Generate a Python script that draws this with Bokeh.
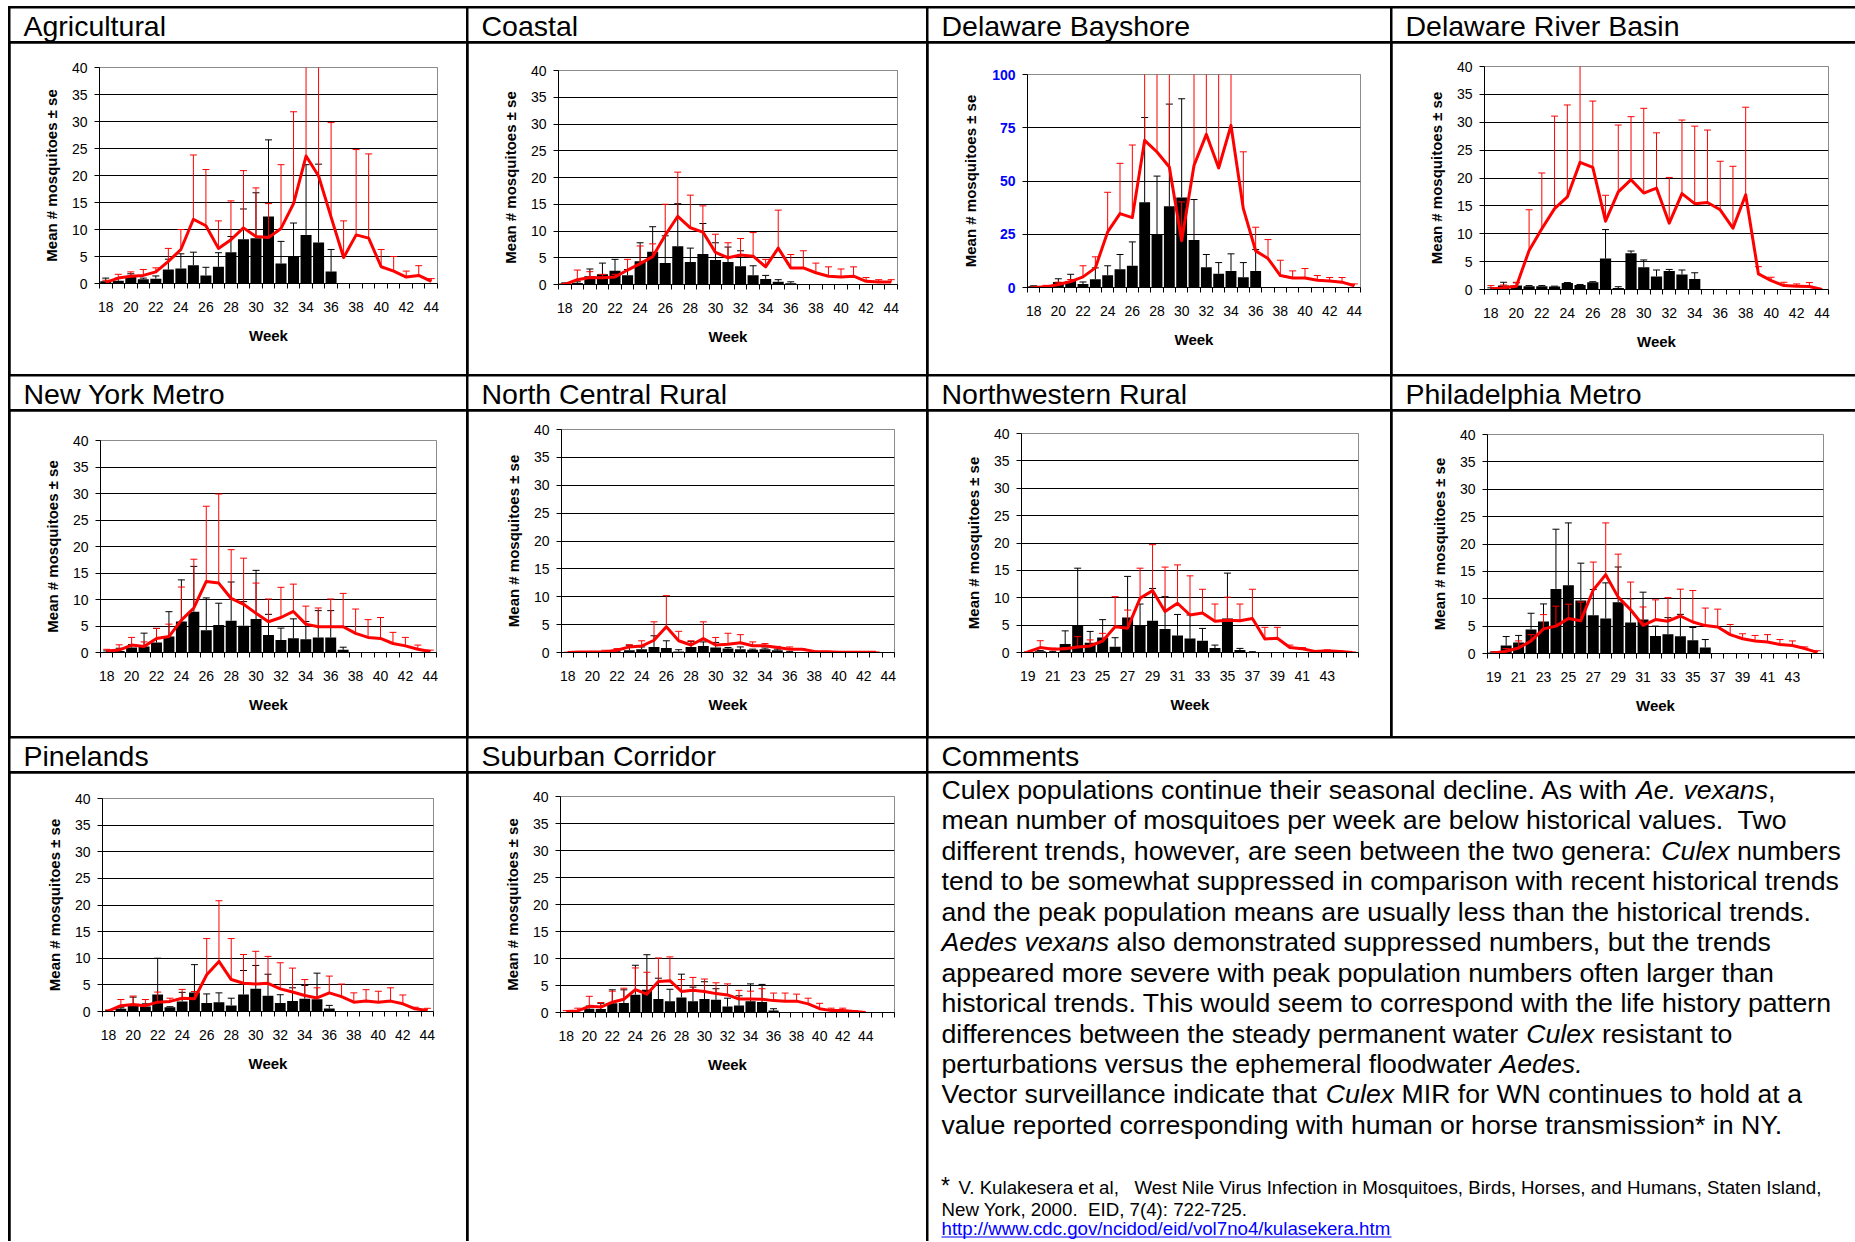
import numpy as np
from bokeh.plotting import figure
from bokeh.models import Range1d, FixedTicker, ColumnDataSource, Spacer
from bokeh.layouts import row, column
from bokeh.core.properties import value
from bokeh.embed import file_html
from bokeh.resources import INLINE

FONT = "Liberation Sans"
RED = "#FF0000"

# ---------------------------------------------------------------------------
# Weekly mean number of mosquitoes per trap (+ standard error)
#   cur_*  : current season (black bars)
#   hist_* : historical mean (red line)
# Missing weeks are None.
# ---------------------------------------------------------------------------
weeks_18_44 = list(range(18, 45))
weeks_19_45 = list(range(19, 46))
weeks_18_46 = list(range(18, 47))
labels_even = list(range(18, 45, 2))
labels_odd = list(range(19, 44, 2))

# Agricultural
agri_hist_mean = [0.2, 1.0, 1.35, 1.5, 2.15, 4.1, 6.3, 11.9, 10.7, 6.5, 8.1, 10.3, 8.7, 8.5, 10.2, 14.8,
                  23.6, 19.9, 12.3, 4.8, 9.0, 8.4, 3.1, 2.3, 1.2, 1.5, 0.4]
agri_hist_se = [0.4, 0.7, 0.8, 1.1, 0.75, 2.4, 3.7, 11.9, 10.4, 5.1, 7.2, 10.6, 9.0, 6.3, 11.8, 17.0,
                21.4, 30.1, 17.5, 6.8, 15.8, 15.6, 3.2, 2.7, 1.1, 1.8, 0.5]
agri_cur_mean = [0.4, 0.5, 1.2, 0.8, 0.9, 2.6, 2.8, 3.4, 1.5, 3.1, 5.8, 8.2, 8.4, 12.4, 3.7, 5.1, 9.0, 7.6, 2.2]
agri_cur_se = [0.6, 0.5, 0.6, 0.2, 0.5, 1.9, 2.7, 2.4, 1.5, 2.6, 2.9, 5.6, 8.4, 14.2, 4.1, 6.1, 13.0, 14.5, 4.1]

# Coastal
coast_hist_mean = [0.0, 0.9, 1.3, 1.25, 1.4, 2.7, 3.9, 5.2, 9.2, 12.75, 10.6, 9.8, 6.0, 5.0, 5.5, 5.3,
                   3.3, 6.8, 3.1, 3.1, 2.2, 1.55, 1.4, 1.55, 0.6, 0.45, 0.45]
coast_hist_se = [0.2, 1.8, 1.1, 0.65, 0.5, 2.0, 3.3, 2.4, 5.8, 8.25, 6.1, 4.9, 3.4, 2.8, 3.1, 4.4,
                 1.4, 7.1, 2.5, 3.2, 1.8, 1.75, 1.5, 1.75, 0.7, 0.45, 0.45]
coast_cur_mean = [0.2, 0.3, 1.55, 1.9, 2.55, 1.75, 4.35, 6.1, 4.0, 7.15, 4.2, 5.7, 4.6, 4.2, 3.4, 1.75, 1.05, 0.5, 0.25]
coast_cur_se = [0.1, 0.2, 1.35, 2.1, 2.15, 1.05, 3.45, 4.7, 5.1, 7.95, 2.6, 5.7, 3.2, 2.8, 2.9, 1.75, 0.65, 0.4, 0.25]

# Delaware Bayshore
bay_hist_mean = [0.0, 0.3, 1.4, 2.8, 5.0, 9.2, 26.1, 34.7, 32.8, 69.1, 63.6, 56.6, 21.9, 57.3, 71.9, 56.1,
                 76.1, 37.0, 17.2, 13.6, 5.6, 4.5, 4.5, 3.4, 3.0, 2.5, 0.8]
bay_hist_se = [0.3, 0.7, 1.1, 0.95, 5.2, 5.2, 18.6, 23.6, 34.1, 61.0, 51.0, 68.0, 18.3, 53.0, 48.0, 49.0,
               54.0, 26.7, 11.1, 8.9, 7.2, 3.3, 4.4, 2.2, 1.7, 2.2, 0.9]
bay_cur_mean = [0.6, 0.3, 2.6, 3.0, 1.6, 3.9, 5.8, 8.6, 10.2, 40.0, 24.8, 38.1, 42.3, 22.3, 9.5, 6.4, 7.8, 4.8, 7.8]
bay_cur_se = [0.2, 0.2, 1.5, 3.2, 1.0, 5.3, 4.4, 6.9, 11.2, 39.8, 27.5, 48.0, 46.3, 19.0, 6.0, 5.3, 8.0, 6.9, 10.0]

# Delaware River Basin
drb_hist_mean = [0.1, 0.3, 0.6, 7.0, 10.9, 14.5, 16.6, 22.8, 21.9, 12.25, 17.5, 19.7, 17.3, 18.2, 11.9, 17.2,
                 15.4, 15.6, 14.3, 11.0, 17.0, 2.8, 1.6, 0.7, 0.6, 0.55, 0.0]
drb_hist_se = [0.6, 0.5, 0.7, 7.3, 10.0, 16.6, 16.5, 18.5, 11.9, 4.65, 12.0, 11.3, 15.2, 9.9, 8.2, 13.2,
               13.9, 13.0, 8.7, 11.1, 15.7, 1.3, 0.6, 0.6, 0.4, 0.7, 0.0]
drb_cur_mean = [0.1, 0.7, 0.7, 0.6, 0.6, 0.55, 1.15, 0.8, 1.3, 5.55, 0.25, 6.5, 4.0, 2.35, 3.3, 2.7, 1.9]
drb_cur_se = [0.2, 0.6, 0.5, 0.1, 0.1, 0.05, 0.1, 0.1, 0.1, 5.2, 0.25, 0.4, 1.3, 1.15, 0.3, 0.8, 1.1]

# New York Metro
nym_hist_mean = [0.3, 0.45, 1.4, 1.15, 2.65, 3.0, 6.1, 8.4, 13.4, 13.1, 10.2, 9.1, 7.4, 5.8, 6.6, 7.75,
                 5.35, 4.85, 4.85, 4.85, 3.6, 2.85, 2.65, 1.7, 1.25, 0.6, 0.2]
nym_hist_se = [0.3, 1.0, 1.45, 0.85, 1.9, 2.35, 6.25, 9.2, 14.2, 16.8, 9.2, 8.7, 5.7, 4.3, 5.7, 5.15,
               3.4, 3.55, 5.25, 6.3, 4.6, 3.35, 3.95, 2.1, 1.6, 0.8, 0.25]
nym_cur_mean = [0.1, 0.3, 0.95, 1.15, 1.9, 3.0, 5.85, 7.7, 4.2, 5.2, 6.0, 5.05, 6.3, 3.3, 2.35, 2.7, 2.5, 2.85, 2.85, 0.5]
nym_cur_se = [0.2, 0.5, 0.55, 2.5, 2.65, 4.7, 7.85, 8.55, 6.1, 4.1, 7.3, 4.55, 9.2, 3.9, 2.25, 3.65, 3.35, 5.05, 5.05, 0.5]

# North Central Rural
ncr_hist_mean = [0.0, 0.1, 0.1, 0.15, 0.4, 1.0, 1.15, 2.2, 4.6, 2.1, 1.35, 2.5, 1.35, 1.5, 1.75, 1.2,
                 1.2, 0.9, 0.6, 0.6, 0.2, 0.15, 0.05, 0.05, 0.05, 0.05]
ncr_hist_se = [0.05, 0.05, 0.1, 0.25, 0.3, 0.4, 0.95, 3.3, 5.6, 1.7, 0.75, 3.0, 1.35, 1.95, 1.45, 0.7,
               0.4, 0.2, 0.4, 0.1, 0.05, 0.05, 0.05, 0.05, 0.05, 0.05]
ncr_cur_mean = [0.0, 0.0, 0.0, 0.0, 0.1, 0.4, 0.6, 1.0, 0.8, 0.2, 1.0, 1.15, 0.9, 0.7, 0.6, 0.5, 0.6, 0.4, 0.1]
ncr_cur_se = [None, None, None, None, 0.05, 0.9, 0.4, 2.0, 1.3, 0.3, 1.0, 0.75, 0.9, 0.2, 0.4, 0.1, 0.2, 0.2, 0.1]

# Northwestern Rural (weeks 19-45)
nwr_hist_mean = [0.1, 0.9, 0.6, 0.7, 1.0, 1.2, 2.1, 4.7, 4.45, 9.9, 11.3, 7.5, 9.0, 6.85, 7.2, 5.7,
                 5.9, 5.8, 6.2, 2.45, 2.6, 0.9, 0.7, 0.2, 0.3, 0.2, 0.0]
nwr_hist_se = [0.1, 1.25, 0.2, 0.2, 1.9, 1.1, 1.4, 5.5, 3.3, 5.5, 8.4, 8.1, 7.0, 7.15, 4.35, 3.15,
               4.2, 3.05, 5.35, 2.15, 2.0, 0.45, 0.2, 0.1, 0.15, 0.1, 0.1]
nwr_cur_mean = [0.0, 0.25, 0.1, 1.55, 5.0, 1.8, 2.75, 1.05, 6.4, 5.0, 5.8, 4.3, 3.1, 2.55, 2.15, 0.8, 6.2, 0.45, 0.1]
nwr_cur_se = [None, 0.1, 0.1, 2.4, 10.4, 2.05, 3.25, 1.65, 7.5, 3.85, 5.9, 5.9, 3.85, 4.3, 2.25, 0.55, 8.3, 0.3, 0.05]

# Philadelphia Metro (weeks 19-45)
phl_hist_mean = [0.1, 0.4, 1.0, 2.3, 4.5, 5.0, 6.4, 6.0, 11.6, 14.4, 10.3, 8.0, 5.15, 6.2, 5.9, 6.85,
                 5.75, 5.1, 4.85, 3.45, 2.7, 2.3, 2.1, 1.65, 1.45, 0.9, 0.2]
phl_hist_se = [0.2, 0.5, 1.3, 1.15, 2.6, 3.65, 2.6, 3.4, 5.1, 9.45, 7.85, 5.05, 3.35, 3.6, 4.3, 4.9,
               5.75, 3.2, 3.25, 1.85, 0.9, 1.0, 1.35, 0.9, 0.85, 0.3, 0.3]
phl_cur_mean = [0.2, 1.45, 2.0, 4.4, 5.85, 11.8, 12.45, 9.7, 7.0, 6.4, 9.35, 5.65, 6.2, 3.2, 3.5, 3.15, 2.4, 1.1]
phl_cur_se = [0.1, 1.65, 1.3, 2.95, 3.2, 10.9, 11.4, 6.8, 4.7, 6.5, 6.45, 4.35, 5.0, 1.8, 3.05, 4.0, 2.35, 1.45]

# Pinelands
pine_hist_mean = [0.1, 1.1, 1.3, 1.1, 1.75, 1.9, 2.5, 2.4, 6.9, 9.4, 6.0, 5.3, 5.15, 5.3, 4.25, 3.65,
                  3.0, 2.55, 3.5, 2.8, 1.75, 1.95, 1.75, 1.95, 1.45, 0.5, 0.2]
pine_hist_se = [0.2, 1.15, 1.6, 1.15, 1.9, 0.6, 1.65, 1.35, 6.8, 11.4, 7.7, 5.4, 6.15, 5.05, 4.9, 4.5,
                3.0, 1.9, 3.15, 2.35, 1.75, 2.15, 2.05, 2.5, 1.65, 0.3, 0.4]
pine_cur_mean = [0.1, 0.5, 1.05, 0.95, 3.2, 0.8, 1.9, 3.55, 1.6, 1.75, 1.15, 3.2, 4.25, 2.95, 1.6, 1.95, 2.4, 2.3, 0.55]
pine_cur_se = [0.1, 0.2, 1.65, 0.5, 6.8, 0.1, 1.7, 5.25, 1.7, 1.75, 1.35, 4.5, 4.4, 4.05, 1.55, 2.5, 2.5, 4.9, 0.6]

# Suburban Corridor (axis runs to week 46)
sub_hist_mean = [0.2, 0.3, 1.15, 1.0, 1.9, 2.45, 4.25, 3.4, 5.75, 5.9, 3.9, 4.1, 3.9, 3.5, 3.25, 2.5,
                 2.5, 2.45, 2.2, 2.1, 2.1, 1.6, 0.7, 0.35, 0.35, 0.2, 0.0]
sub_hist_se = [0.15, 0.5, 1.85, 0.85, 2.05, 2.05, 4.0, 4.05, 4.35, 4.4, 2.2, 2.4, 2.3, 2.0, 2.05, 1.6,
               1.45, 1.95, 1.4, 1.5, 1.3, 1.05, 1.0, 0.45, 0.45, 0.15, None]
sub_cur_mean = [0.0, 0.1, 0.7, 0.65, 1.7, 1.75, 3.3, 4.2, 2.5, 2.1, 2.8, 2.1, 2.5, 2.35, 1.1, 1.3, 2.1, 1.95, 0.35, 0.1]
sub_cur_se = [None, None, 0.5, 1.05, 2.5, 2.45, 5.45, 6.5, 3.85, 2.2, 4.3, 2.6, 3.2, 2.05, 1.55, 1.8, 3.2, 3.25, 0.35, None]

# ---------------------------------------------------------------------------
# Comment panel text (segments flagged True are set in italics)
# ---------------------------------------------------------------------------
comment_lines = [
    [("Culex populations continue their seasonal decline. As with ", False), ("Ae. vexans", True), (",", False)],
    [("mean number of mosquitoes per week are below historical values.\u00a0 Two", False)],
    [("different trends, however, are seen between the two genera: ", False), ("Culex", True), (" numbers", False)],
    [("tend to be somewhat suppressed in comparison with recent historical trends", False)],
    [("and the peak population means are usually less than the historical trends.", False)],
    [("Aedes vexans", True), (" also demonstrated suppressed numbers, but the trends", False)],
    [("appeared more severe with peak population numbers often larger than", False)],
    [("historical trends. This would seem to correspond with the life history pattern", False)],
    [("differences between the steady permanent water ", False), ("Culex", True), (" resistant to", False)],
    [("perturbations versus the ephemeral floodwater ", False), ("Aedes.", True)],
    [("Vector surveillance indicate that ", False), ("Culex", True), (" MIR for WN continues to hold at a", False)],
    [("value reported corresponding with human or horse transmission* in NY.", False)],
]
footnote_1 = "V. Kulakesera et al,\u00a0\u00a0 West Nile Virus Infection in Mosquitoes, Birds, Horses, and Humans, Staten Island,"
footnote_2 = "New York, 2000.\u00a0 EID, 7(4): 722-725."
footnote_link = "http://www.cdc.gov/ncidod/eid/vol7no4/kulasekera.htm"

# Advance widths (1/1000 em) of the Arial-metric font, used to place italic runs
CHAR_W = {}
for chars, wd in [("'", 191), ("ijl", 222), (" \u00a0!,./:;I[]\\ft", 278), ("()-r`", 333), ('"', 355),
                  ("*", 389), ("^", 469), ("Jckvsxyz", 500), ("#$0123456789?_abdeghnopquL", 556),
                  ("+<=>~", 584), ("FTZ", 611), ("&ABEKPSVXY", 667), ("CDHNRUw", 722), ("GOQ", 778),
                  ("Mm", 833), ("%", 889), ("W", 944), ("@", 1015)]:
    for c in chars:
        CHAR_W[c] = wd

# the text glyph anchors near mid-height; shift so that y is the alphabetic baseline
BASELINE_SHIFT = 0.33


def text_width(s, px):
    return sum(CHAR_W.get(c, 556) for c in s) * px / 1000.0


def keep_edge_spaces(s):
    # leading/trailing blanks of a run would be collapsed; use no-break spaces instead
    core = s.strip(" ")
    lead = len(s) - len(s.lstrip(" "))
    trail = len(s) - len(s.rstrip(" "))
    return "\u00a0" * lead + core + "\u00a0" * trail


def pad(vals, n):
    out = [np.nan if v is None else float(v) for v in vals]
    return np.array(out + [np.nan] * (n - len(out)))


def no_frame_align(p):
    try:
        p.frame_align = False
    except Exception:
        pass
    return p


def blank_canvas(w, h):
    p = figure(width=w, height=h, title=None, toolbar_location=None, output_backend="svg",
               x_range=Range1d(0, w), y_range=Range1d(h, 0),
               x_axis_location=None, y_axis_location=None, min_border=0,
               outline_line_color=None, background_fill_color="white", border_fill_color="white")
    p.grid.visible = False
    return no_frame_align(p)


def put_text(p, xs, ys, texts, size, style="normal", color="black"):
    ys = [y - BASELINE_SHIFT * size for y in ys]
    p.text(x=xs, y=ys, text=[keep_edge_spaces(t) for t in texts], text_font=value(FONT),
           text_font_size=value("%.1fpx" % size), text_font_style=style,
           text_baseline="alphabetic", text_align="left", text_line_height=1.0, text_color=color)


def title_cell(text, w, h):
    p = blank_canvas(w, h)
    put_text(p, [13], [26.5], [text], 28.5)
    return p


def chart(weeks, ticks, cur_mean, cur_se, hist_mean, hist_se, w, h, mL, mR, mT, mB,
          ymax=40, ystep=5, blue=False, ylab_standoff=9):
    n = len(weeks)
    cm, cs = pad(cur_mean, n), pad(cur_se, n)
    hm, hs = pad(hist_mean, n), pad(hist_se, n)
    src = ColumnDataSource(dict(week=weeks, cm=cm, ct=cm + cs, hm=hm, ht=hm + hs))
    p = figure(width=w, height=h, title=None, toolbar_location=None, output_backend="svg",
               x_range=Range1d(weeks[0] - 0.5, weeks[-1] + 0.5), y_range=Range1d(0, ymax),
               min_border_left=mL, min_border_right=mR, min_border_top=mT, min_border_bottom=mB,
               background_fill_color="white", border_fill_color="white",
               outline_line_color="#8c8c8c", outline_line_width=1)
    no_frame_align(p)
    p.vbar(x="week", top="cm", width=0.88, source=src, fill_color="black", line_color=None)
    p.segment(x0="week", y0="cm", x1="week", y1="ct", source=src, line_color="black", line_width=1)
    p.scatter(x="week", y="ct", source=src, marker="dash", size=7, line_color="black", line_width=1)
    p.segment(x0="week", y0="hm", x1="week", y1="ht", source=src, line_color=RED, line_width=1)
    p.scatter(x="week", y="ht", source=src, marker="dash", size=7, line_color=RED, line_width=1)
    p.line(x="week", y="hm", source=src, line_color=RED, line_width=3, line_join="round")

    xa = p.xaxis[0]
    xa.ticker = FixedTicker(ticks=ticks, minor_ticks=[wk - 0.5 for wk in weeks] + [weeks[-1] + 0.5])
    xa.axis_label = "Week"
    xa.axis_line_color = "black"
    xa.major_tick_line_color = None
    xa.major_tick_out = 0
    xa.major_tick_in = 0
    xa.minor_tick_line_color = "black"
    xa.minor_tick_out = 5
    xa.minor_tick_in = 0
    xa.major_label_standoff = 13
    xa.axis_label_standoff = 12

    ya = p.yaxis[0]
    ya.ticker = FixedTicker(ticks=list(range(0, ymax + 1, ystep)))
    ya.axis_label = "Mean # mosquitoes \u00b1 se"
    ya.axis_line_color = "black"
    ya.major_tick_line_color = "black"
    ya.major_tick_out = 5
    ya.major_tick_in = 0
    ya.minor_tick_line_color = None
    ya.major_label_standoff = 7
    ya.axis_label_standoff = ylab_standoff

    for ax in (xa, ya):
        ax.major_label_text_font = FONT
        ax.major_label_text_font_size = "14px"
        ax.major_label_text_color = "black"
        ax.axis_label_text_font = FONT
        ax.axis_label_text_font_size = "15px"
        ax.axis_label_text_font_style = "bold"
        ax.axis_label_text_color = "black"
    if blue:
        ya.major_label_text_color = "#0000FF"
        ya.major_label_text_font_style = "bold"

    p.xgrid.visible = False
    p.ygrid.ticker = FixedTicker(ticks=list(range(ystep, ymax, ystep)))
    p.ygrid.grid_line_color = "black"
    p.ygrid.grid_line_width = 1
    return p


def comments_cell(w, h):
    p = blank_canvas(w, h)
    body_px = 26.7
    groups = {False: ([], [], []), True: ([], [], [])}
    for i, segs in enumerate(comment_lines):
        x = 13.0
        y = 25.3 + 30.45 * i
        for txt, ital in segs:
            xs, ys, ts = groups[ital]
            xs.append(x)
            ys.append(y)
            ts.append(txt)
            x += text_width(txt, body_px)
    for ital, (xs, ys, ts) in groups.items():
        put_text(p, xs, ys, ts, body_px, style="italic" if ital else "normal")
    # reference footnote
    put_text(p, [12.5], [420], ["*"], 23)
    put_text(p, [30, 13], [420, 442], [footnote_1, footnote_2], 18.7)
    put_text(p, [13], [461], [footnote_link], 18.7, color="#0000FF")
    link_w = text_width(footnote_link, 18.7)
    p.segment(x0=[13], x1=[13 + link_w], y0=[463.5], y1=[463.5], line_color="#0000FF", line_width=1)
    return p


# ---------------------------------------------------------------------------
# Table layout: 4 columns, 3 rows of (title strip, content)
# ---------------------------------------------------------------------------
col_w = [456, 458, 462, 463]
h_title, h_row1, h_row2, h_row3 = 33, 331, 325, 468
wide_w = col_w[2] + 2 + col_w[3]

charts_row1 = [
    chart(weeks_18_44, labels_even, agri_cur_mean, agri_cur_se, agri_hist_mean, agri_hist_se,
          col_w[0], h_row1, 89, 29, 24, 91),
    chart(weeks_18_44, labels_even, coast_cur_mean, coast_cur_se, coast_hist_mean, coast_hist_se,
          col_w[1], h_row1, 90, 29, 27, 90),
    chart(weeks_18_44, labels_even, bay_cur_mean, bay_cur_se, bay_hist_mean, bay_hist_se,
          col_w[2], h_row1, 99, 30, 31, 87, ymax=100, ystep=25, blue=True, ylab_standoff=10),
    chart(weeks_18_44, labels_even, drb_cur_mean, drb_cur_se, drb_hist_mean, drb_hist_se,
          col_w[3], h_row1, 92, 27, 23, 85),
]
charts_row2 = [
    chart(weeks_18_44, labels_even, nym_cur_mean, nym_cur_se, nym_hist_mean, nym_hist_se,
          col_w[0], h_row2, 90, 30, 29, 84),
    chart(weeks_18_44, labels_even, ncr_cur_mean, ncr_cur_se, ncr_hist_mean, ncr_hist_se,
          col_w[1], h_row2, 93, 32, 18, 84),
    chart(weeks_19_45, labels_odd, nwr_cur_mean, nwr_cur_se, nwr_hist_mean, nwr_hist_se,
          col_w[2], h_row2, 93, 32, 22, 84),
    chart(weeks_19_45, labels_odd, phl_cur_mean, phl_cur_se, phl_hist_mean, phl_hist_se,
          col_w[3], h_row2, 95, 32, 23, 83),
]
charts_row3 = [
    chart(weeks_18_44, labels_even, pine_cur_mean, pine_cur_se, pine_hist_mean, pine_hist_se,
          col_w[0], h_row3, 92, 33, 25, 230),
    chart(weeks_18_46, labels_even, sub_cur_mean, sub_cur_se, sub_hist_mean, sub_hist_se,
          col_w[1], h_row3, 92, 32, 23, 229),
    comments_cell(wide_w, h_row3),
]

titles_row1 = ["Agricultural", "Coastal", "Delaware Bayshore", "Delaware River Basin"]
titles_row2 = ["New York Metro", "North Central Rural", "Northwestern Rural", "Philadelphia Metro"]
titles_row3 = ["Pinelands", "Suburban Corridor", "Comments"]


def table_row(children, h):
    return row([Spacer(width=0, height=h)] + children, spacing=2)


t1 = table_row([title_cell(t, w, h_title) for t, w in zip(titles_row1, col_w)], h_title)
t2 = table_row([title_cell(t, w, h_title) for t, w in zip(titles_row2, col_w)], h_title)
t3 = table_row([title_cell(t, w, h_title) for t, w in zip(titles_row3, [col_w[0], col_w[1], wide_w])], h_title)

total_w = sum(col_w) + 2 * len(col_w)
page = column([Spacer(width=total_w, height=0),
               t1, table_row(charts_row1, h_row1),
               t2, table_row(charts_row2, h_row2),
               t3, table_row(charts_row3, h_row3)],
              spacing=2, margin=(6, 0, 0, 8), styles={"background-color": "black"})

open("out.html", "w").write(file_html(page, INLINE))
